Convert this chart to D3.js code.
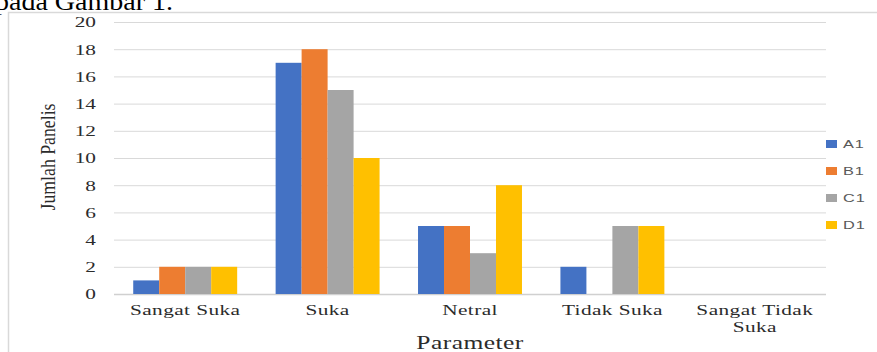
<!DOCTYPE html>
<html>
<head>
<meta charset="utf-8">
<script src="https://cdn.jsdelivr.net/npm/d3@7/dist/d3.min.js"></script>
<style>
  html, body { margin: 0; padding: 0; background: #fff; }
  svg { display: block; }
</style>
</head>
<body>
<svg id="chart" width="877" height="352"></svg>
<script>
// Survey data: number of panelists per preference level, for each sample
const categories = ["Sangat Suka", "Suka", "Netral", "Tidak Suka", "Sangat Tidak Suka"];
const seriesNames = ["A1", "B1", "C1", "D1"];
const A1 = [1, 17, 5, 2, 0];
const B1 = [2, 18, 5, 0, 0];
const C1 = [2, 15, 3, 5, 0];
const D1 = [2, 10, 8, 5, 0];
const yTicks = [0, 2, 4, 6, 8, 10, 12, 14, 16, 18, 20];
const colors = ["#4472C4", "#ED7D31", "#A5A5A5", "#FFC000"];

const seriesValues = [A1, B1, C1, D1];
const rows = categories.map((c, i) => ({
  category: c,
  values: seriesNames.map((s, j) => ({ series: s, value: seriesValues[j][i] }))
}));

const svg = d3.select("#chart");
const serif = "'Liberation Serif', 'Times New Roman', serif";
const sans = "'Liberation Sans', Arial, sans-serif";
const SX = 1.42;          // horizontal widening of the chart's lettering
const ink = "#2b2b2b";

// Caption line from the surrounding document, cut by the top edge
svg.append("text")
  .attr("x", -5).attr("y", 10)
  .attr("font-family", serif).attr("font-size", 26)
  .attr("fill", "#000")
  .attr("textLength", 178).attr("lengthAdjust", "spacingAndGlyphs")
  .text("pada Gambar 1.");

// Chart frame
svg.append("rect")
  .attr("x", 8.5).attr("y", 12.5)
  .attr("width", 900).attr("height", 400)
  .attr("fill", "#fff").attr("stroke", "#d9d9d9").attr("stroke-width", 1.5);

const plot = { left: 114, right: 826, top: 22, bottom: 294 };

const x0 = d3.scaleBand()
  .domain(categories)
  .range([plot.left, plot.right])
  .paddingInner(0.27).paddingOuter(0.135);

const x1 = d3.scaleBand()
  .domain(seriesNames)
  .range([0, x0.bandwidth()]);

const y = d3.scaleLinear().domain([0, 20]).range([plot.bottom, plot.top]);

// Horizontal gridlines
svg.append("g")
  .selectAll("line")
  .data(yTicks)
  .join("line")
  .attr("x1", plot.left).attr("x2", plot.right)
  .attr("y1", d => y(d) + 0.5).attr("y2", d => y(d) + 0.5)
  .attr("stroke", d => d === 0 ? "#d0d0d0" : "#d9d9d9")
  .attr("stroke-width", d => d === 0 ? 1.5 : 1);

// Y axis tick labels
const yAxis = d3.axisLeft(y).tickValues(yTicks).tickSize(0).tickPadding(0);
const gy = svg.append("g")
  .attr("transform", `translate(${plot.left - 18},0)`)
  .call(yAxis);
gy.select(".domain").remove();
gy.selectAll("text")
  .attr("x", 0)
  .attr("transform", `scale(${SX},1)`)
  .attr("font-family", serif).attr("font-size", 15)
  .attr("fill", ink);

// Bars
const groups = svg.append("g")
  .selectAll("g")
  .data(rows)
  .join("g")
  .attr("transform", d => `translate(${x0(d.category)},0)`);

groups.selectAll("rect")
  .data(d => d.values)
  .join("rect")
  .attr("x", d => x1(d.series))
  .attr("width", x1.bandwidth())
  .attr("y", d => y(d.value))
  .attr("height", d => y(0) - y(d.value))
  .attr("fill", (d, i) => colors[i]);

// Category labels (wrapped where long)
const xAxis = d3.axisBottom(x0).tickSize(0).tickPadding(0);
const gx = svg.append("g")
  .attr("transform", `translate(0,${plot.bottom})`)
  .call(xAxis);
gx.select(".domain").remove();
gx.selectAll("text").each(function (d) {
  const t = d3.select(this);
  t.text(null)
    .attr("y", 0)
    .attr("dy", null)
    .attr("transform", `scale(${SX},1)`)
    .attr("font-family", serif).attr("font-size", 15)
    .attr("fill", ink).attr("letter-spacing", "0.3px");
  const lines = d === "Sangat Tidak Suka" ? ["Sangat Tidak", "Suka"] : [d];
  lines.forEach((ln, i) => {
    t.append("tspan").attr("x", 0).attr("y", 21 + i * 17).text(ln);
  });
});

// Axis titles
svg.append("text")
  .attr("transform", `translate(${(plot.left + plot.right) / 2},349) scale(${SX},1)`)
  .attr("text-anchor", "middle")
  .attr("font-family", serif).attr("font-size", 18)
  .attr("fill", ink).attr("letter-spacing", "0.3px")
  .text("Parameter");

svg.append("text")
  .attr("transform", `translate(55,157) rotate(-90) scale(1,1.25)`)
  .attr("text-anchor", "middle")
  .attr("font-family", serif).attr("font-size", 17)
  .attr("fill", ink)
  .attr("textLength", 107).attr("lengthAdjust", "spacingAndGlyphs")
  .text("Jumlah Panelis");

// Legend
const legend = svg.append("g")
  .selectAll("g")
  .data(seriesNames)
  .join("g")
  .attr("transform", (d, i) => `translate(826,${140 + i * 27})`);

legend.append("rect")
  .attr("width", 11).attr("height", 8)
  .attr("fill", (d, i) => colors[i]);

legend.append("text")
  .attr("transform", `translate(17,8) scale(${SX},1)`)
  .attr("font-family", sans).attr("font-size", 11.5)
  .attr("fill", "#595959").attr("letter-spacing", "0.6px")
  .text(d => d);
</script>
</body>
</html>
